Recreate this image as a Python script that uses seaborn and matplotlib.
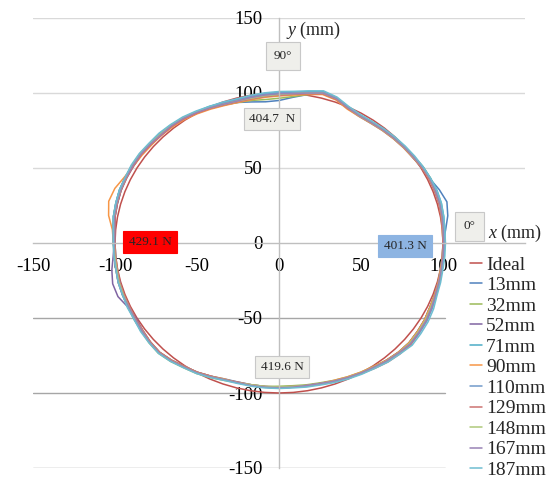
import matplotlib
matplotlib.use("Agg")
import numpy as np
import pandas as pd
import seaborn as sns
import matplotlib.pyplot as plt

# Measured rim profiles: radius (mm) every 5 degrees, counter-clockwise from +x
ANGLES_DEG = list(range(0, 360, 5))
IDEAL_RADIUS = 100.0

R_13MM = [100, 102, 104.5, 106, 104, 101.5, 100.5, 99.5, 99, 98.5, 98, 97.5,
          97.5, 99, 102.5, 104, 100.5, 97.5, 95, 94.5, 95.5, 97, 98, 99,
          100, 101, 101.5, 102, 102, 102.5, 102.5, 103, 102.5, 102, 101.5, 100.5,
          100, 100, 100.5, 100.5, 101, 101, 101, 101.5, 102.5, 103, 102, 100.5,
          99.5, 98, 96.5, 96, 96, 96, 96.5, 96.5, 96.5, 97, 98, 99,
          100, 101, 102, 103, 103.5, 103, 102.5, 101.5, 101, 100.5, 100, 100]
R_32MM = [101, 101, 101.5, 102, 102, 102, 101.5, 100.5, 100, 99.5, 99, 98.5,
          98.5, 99.5, 102, 103, 100.5, 98, 96.5, 96, 96.5, 97, 98, 99,
          100.5, 101.5, 102.5, 102.5, 103, 103.5, 103.5, 103.5, 103.5, 103, 102.5, 101.5,
          101, 101, 101, 101.5, 101.5, 101.5, 102, 102.5, 103.5, 104, 103, 101.5,
          100.5, 99, 97.5, 96.5, 96, 96, 95.5, 95.5, 96, 96.5, 97.5, 98.5,
          99.5, 100.5, 102, 103, 103.5, 103, 102.5, 101.5, 101, 101, 101, 101]
R_52MM = [100.5, 100.5, 101, 101, 101, 101, 100.5, 99.5, 99.5, 99, 98.5, 98,
          98, 99, 102, 103, 101, 99.5, 98.5, 98, 97.5, 97.5, 98, 99,
          100, 101, 101.5, 101.5, 102, 102.5, 102.5, 102.5, 102.5, 102, 101.5, 100.5,
          100.5, 101.5, 103.5, 105, 104.5, 101.5, 100.5, 101.5, 102.5, 103, 102, 100.5,
          99.5, 98, 97, 96.5, 96.5, 96.5, 96.5, 96.5, 96.5, 97, 98, 99,
          100, 101, 102, 103, 103.5, 103, 102.5, 101.5, 101, 100.5, 100.5, 100.5]
R_71MM = [101, 101.5, 102, 102.5, 102.5, 102, 101.5, 100.5, 100, 99.5, 99, 98.5,
          98.5, 100, 103, 104.5, 102.5, 101, 100, 99.5, 99, 99, 99.5, 100.5,
          101, 102, 102.5, 103, 103, 103.5, 103.5, 103.5, 103.5, 103, 102.5, 101.5,
          101, 100.5, 100.5, 101, 101.5, 101.5, 101.5, 102.5, 103, 103.5, 102.5, 101,
          100, 98.5, 97, 96.5, 96.5, 96.5, 96.5, 96.5, 97, 97.5, 98.5, 99.5,
          100.5, 101.5, 103, 104, 105, 104.5, 104, 103, 102, 101.5, 101, 101]
R_90MM = [100, 100, 100.5, 101, 101, 101, 100.5, 99.5, 99, 98.5, 98, 97.5,
          97.5, 98.5, 101.5, 102.5, 100.5, 99, 98, 97.5, 97, 97, 97.5, 98.5,
          99.5, 100.5, 101, 101.5, 101.5, 102, 102.5, 104, 106.5, 107.5, 105.5, 102,
          101, 100.5, 100.5, 101, 101, 101, 101.5, 101.5, 102.5, 103, 102, 100.5,
          99.5, 98, 96.5, 96.5, 96.5, 96.5, 96.5, 96.5, 96.5, 97, 97.5, 98.5,
          99.5, 100.5, 102, 103, 103.5, 103, 102.5, 101.5, 101, 100.5, 100, 100]
R_110MM = [101, 101, 101.5, 102, 102, 101.5, 101, 100.5, 100, 99.5, 99, 98.5,
           98.5, 100, 103, 104, 102, 101, 100.5, 100, 99, 98.5, 99, 100,
           101, 102, 102.5, 103, 103, 103.5, 103.5, 103.5, 103.5, 103, 102.5, 101.5,
           101, 101, 101, 101.5, 101.5, 101.5, 102, 102.5, 103, 103.5, 102.5, 101,
           100, 98.5, 97, 96.5, 96.5, 96.5, 96.5, 96.5, 97, 97.5, 98.5, 99.5,
           100.5, 101.5, 103, 104, 105, 104.5, 104, 103, 102, 101.5, 101, 101]
R_129MM = [100, 100, 100.5, 101, 101, 101, 100.5, 100, 99.5, 99, 98.5, 98,
           98, 99, 102, 103, 101, 99.5, 98.5, 98, 97.5, 97.5, 98, 99,
           100, 101, 101.5, 101.5, 102, 102.5, 102.5, 102.5, 102.5, 102, 101.5, 100.5,
           100, 100, 100, 100.5, 100.5, 100.5, 101, 101.5, 102.5, 103, 102, 100.5,
           99.5, 98, 97, 96, 96, 96, 96, 96, 96.5, 97, 98, 99,
           100.5, 102, 103.5, 104.5, 105, 104, 103.5, 102.5, 101.5, 101, 100.5, 100]
R_148MM = [100.5, 100.5, 101, 101.5, 101.5, 101.5, 101, 100, 99.5, 99, 98.5, 98,
           98, 99.5, 102.5, 103.5, 101.5, 100, 99, 98.5, 98, 98, 98.5, 99.5,
           101, 102, 102.5, 102.5, 103, 103.5, 103.5, 103, 103, 102.5, 102, 101,
           100.5, 100.5, 100.5, 101, 101, 101, 101.5, 102, 103, 103.5, 102.5, 101,
           100, 98.5, 97, 96.5, 96, 96, 96, 96, 96.5, 97, 98, 99,
           100, 101, 102.5, 103.5, 104, 103.5, 103, 102, 101.5, 101, 100.5, 100.5]
R_167MM = [100.5, 100.5, 101, 101.5, 101.5, 101.5, 101, 100, 99.5, 99, 98.5, 98,
           98, 99.5, 102.5, 103.5, 101.5, 100, 99.5, 99, 98.5, 98, 98.5, 99.5,
           100.5, 101.5, 102, 102, 102.5, 103, 103, 103, 103, 102.5, 102, 101,
           100.5, 101, 101, 101.5, 101.5, 101, 101.5, 102, 103, 103.5, 102.5, 101,
           100, 98.5, 97, 96.5, 96.5, 96.5, 96.5, 96.5, 96.5, 97, 98, 99,
           100, 101, 102.5, 103.5, 104.5, 104, 103.5, 102.5, 101.5, 101, 100.5, 100.5]
R_187MM = [101.5, 101.5, 102, 102.5, 102.5, 102, 101.5, 101, 100.5, 100, 99.5, 99,
           99, 100.5, 103.5, 105, 103, 101.5, 101, 100.5, 100, 99.5, 100, 100.5,
           101.5, 102.5, 103, 103.5, 103.5, 104, 104, 103.5, 103.5, 103, 102.5, 101.5,
           101, 101, 101, 101.5, 101.5, 102, 102, 103, 103.5, 104, 103, 101.5,
           100.5, 99, 97.5, 97, 97, 97, 97, 97, 97.5, 98, 99, 100,
           101, 102, 103.5, 104.5, 106, 105.5, 105, 104, 102.5, 102, 101.5, 101.5]

SERIES = ["Ideal", "13mm", "32mm", "52mm", "71mm", "90mm",
          "110mm", "129mm", "148mm", "167mm", "187mm"]
RADII = [[IDEAL_RADIUS] * len(ANGLES_DEG), R_13MM, R_32MM, R_52MM, R_71MM, R_90MM,
         R_110MM, R_129MM, R_148MM, R_167MM, R_187MM]
COLORS = ["#c0504d", "#4f81bd", "#9bbb59", "#8064a2", "#4bacc6", "#f79646",
          "#729aca", "#cd7371", "#afc97a", "#9983b5", "#6fbdd1"]

X_TICKS = [-150, -100, -50, 0, 50, 100]
Y_TICKS = [-150, -100, -50, 0, 50, 100, 150]

# Force labels at the four load points
LOAD_LABELS = ["429.1 N", "401.3 N", "404.7  N", "419.6 N"]

# Long table of closed outlines
rows = []
for name, radii in zip(SERIES, RADII):
    ang = ANGLES_DEG + [ANGLES_DEG[0] + 360]
    rad = list(radii) + [radii[0]]
    for k, (a, r) in enumerate(zip(ang, rad)):
        t = np.deg2rad(a)
        rows.append({"series": name, "step": k,
                     "x": r * np.cos(t), "y": r * np.sin(t)})
df = pd.DataFrame(rows)

sns.set_theme(style="white")
plt.rcParams["font.family"] = ["Liberation Serif", "DejaVu Serif"]
plt.rcParams["mathtext.fontset"] = "custom"
plt.rcParams["mathtext.rm"] = "Liberation Serif"
plt.rcParams["mathtext.it"] = "Liberation Serif:italic"

fig = plt.figure(figsize=(5.47, 4.79), dpi=100)
ax = fig.add_axes([33 / 547, 11 / 479, 492 / 547, 450 / 479])

# Gridlines; the lower ones stop where the legend sits
legend_left = 0.837
for v in Y_TICKS:
    if v == 0:
        continue
    if v > 0:
        ax.axhline(v, 0, 1, color="#d9d9d9", lw=1.0, zorder=0)
    else:
        ax.axhline(v, 0, legend_left, color="#a6a6a6", lw=1.0, zorder=0)

sns.lineplot(data=df, x="x", y="y", hue="series", hue_order=SERIES,
             palette=COLORS, sort=False, estimator=None, lw=1.1, ax=ax)

ax.set_xlim(-150, 150)
ax.set_ylim(-150, 150)
ax.set_xlabel("")
ax.set_ylabel("")

for side in ("top", "right"):
    ax.spines[side].set_visible(False)
for side in ("left", "bottom"):
    ax.spines[side].set_position(("data", 0))
    ax.spines[side].set_color("#bfbfbf")
    ax.spines[side].set_linewidth(1.0)

ax.set_xticks(X_TICKS)
ax.set_xticklabels([str(v) for v in X_TICKS])
ax.set_yticks(Y_TICKS)
ax.set_yticklabels([str(v) for v in Y_TICKS])
ax.tick_params(axis="x", length=4, width=1, color="#bfbfbf", direction="out",
               pad=7, labelsize=13.5, labelcolor="black")
ax.tick_params(axis="y", length=0, pad=12, labelsize=13.5, labelcolor="black")

# Axis titles
ax.text(4.3, 142, "$y$ (mm)", fontsize=13, ha="left", va="center")
ax.text(127.4, 6.7, "$x$ (mm)", fontsize=13, ha="left", va="center")

ax.text(2.4, 124.7, "90°", fontsize=9.5, ha="center", va="center",
        bbox=dict(boxstyle="square,pad=0.6", fc="#efefeb", ec="#c8c8c8", lw=0.8),
        zorder=6)
ax.text(115.9, 11, "0°", fontsize=9.5, ha="center", va="center",
        bbox=dict(boxstyle="square,pad=0.65", fc="#efefeb", ec="#c8c8c8", lw=0.8),
        zorder=6)

label_box = dict(boxstyle="square,pad=0.4", fc="#efefea", ec="#c8c8c8", lw=0.8)
ax.text(-78.7, 0.7, LOAD_LABELS[0], fontsize=9.5, ha="center", va="center",
        bbox=dict(boxstyle="square,pad=0.4", fc="#ff0000", ec="#ff0000", lw=0.8),
        zorder=6)
ax.text(76.8, -2, LOAD_LABELS[1], fontsize=9.5, ha="center", va="center",
        bbox=dict(boxstyle="square,pad=0.4", fc="#8db4e2", ec="#8db4e2", lw=0.8),
        zorder=6)
ax.text(-4.3, 82.7, LOAD_LABELS[2], fontsize=9.5, ha="center", va="center",
        bbox=label_box, zorder=6)
ax.text(1.8, -82.7, LOAD_LABELS[3], fontsize=9.5, ha="center", va="center",
        bbox=label_box, zorder=6)

handles, labels = ax.get_legend_handles_labels()
for h in handles:
    h.set_linewidth(1.1)
ax.legend(handles, labels, loc="upper left",
          bbox_to_anchor=(470 / 547, 1 - 256 / 479), bbox_transform=fig.transFigure,
          frameon=False, fontsize=14, handlelength=0.62, handletextpad=0.2,
          labelspacing=0.15, borderpad=0, borderaxespad=0)

fig.savefig("out.png", dpi=100)
